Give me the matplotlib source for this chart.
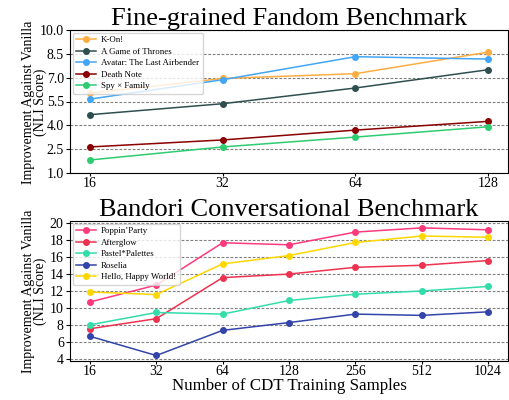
import matplotlib
matplotlib.use("Agg")
import matplotlib.pyplot as plt

plt.rcParams['font.family'] = ['Liberation Serif', 'DejaVu Serif']

# Top chart data
top_x = ["16", "32", "64", "128"]
kon = [6.02, 6.95, 7.25, 8.61]
got = [4.67, 5.36, 6.35, 7.50]
avatar = [5.65, 6.87, 8.32, 8.17]
death_note = [2.64, 3.08, 3.70, 4.25]
spy_family = [1.82, 2.64, 3.26, 3.91]
top_names = ["K-On!", "A Game of Thrones", "Avatar: The Last Airbender", "Death Note", "Spy × Family"]
top_colors = ["#FFAD42", "#2F4F4F", "#42A5F5", "#8B0000", "#2ECC71"]
top_yticks = [1.0, 2.5, 4.0, 5.5, 7.0, 8.5, 10.0]

# Bottom chart data
bot_x = ["16", "32", "64", "128", "256", "512", "1024"]
poppin = [10.70, 12.70, 17.70, 17.46, 18.96, 19.46, 19.23]
afterglow = [7.54, 8.73, 13.58, 14.00, 14.80, 15.04, 15.60]
pastel = [8.00, 9.46, 9.27, 10.88, 11.62, 12.00, 12.54]
roselia = [6.65, 4.38, 7.35, 8.27, 9.27, 9.12, 9.54]
hello = [11.88, 11.58, 15.20, 16.19, 17.73, 18.50, 18.35]
bot_names = ["Poppin’Party", "Afterglow", "Pastel*Palettes", "Roselia", "Hello, Happy World!"]
bot_colors = ["#FF3A7A", "#EE3350", "#33DDAA", "#3344AA", "#FFD700"]
bot_yticks = [4, 6, 8, 10, 12, 14, 16, 18, 20]

ylabel_lines = ["Improvement Against Vanilla", "(NLI Score)"]

W, H = 509, 400
fig = plt.figure(figsize=(W/100, H/100), dpi=100)
ax1 = fig.add_axes([70/W, 1 - 173/H, 438/W, 143/H])
ax2 = fig.add_axes([70/W, 1 - 361/H, 438/W, 140/H])


def style(ax, title, ycenter):
    ax.grid(axis='y', linestyle=(0, (2.5, 1.5)), color='gray', lw=0.8)
    ax.set_axisbelow(True)
    ax.set_title(title, fontsize=19, pad=2)
    for xc, line in zip([28.5, 40.5], ylabel_lines):
        fig.text(xc / W, 1 - ycenter / H, line, rotation=90, ha='center', va='center',
                 fontsize=10)
    ax.tick_params(axis='both', labelsize=10, width=0.8)
    ax.tick_params(axis='y', length=3, pad=1.5)
    ax.tick_params(axis='x', length=2, pad=0.6)
    ax.legend(loc='upper left', fontsize=6.4, handlelength=2.2, handletextpad=0.6,
              borderpad=0.4, labelspacing=0.36, borderaxespad=0.3)


top_series = [kon, got, avatar, death_note, spy_family]
for vals, name, c in zip(top_series, top_names, top_colors):
    ax1.plot(range(len(top_x)), vals, marker='o', markersize=4, lw=1.1, color=c, label=name)
ax1.set_xticks(range(len(top_x)))
ax1.set_xticklabels(top_x)
ax1.set_yticks(top_yticks)
ax1.set_yticklabels([f"{v:.1f}" for v in top_yticks])
ax1.set_ylim(1.0, 10.0)
style(ax1, "Fine-grained Fandom Benchmark", 102)

bot_series = [poppin, afterglow, pastel, roselia, hello]
for vals, name, c in zip(bot_series, bot_names, bot_colors):
    ax2.plot(range(len(bot_x)), vals, marker='o', markersize=4, lw=1.1, color=c, label=name)
ax2.set_xticks(range(len(bot_x)))
ax2.set_xticklabels(bot_x)
ax2.set_yticks(bot_yticks)
ax2.set_ylim(3.73, 20.27)
style(ax2, "Bandori Conversational Benchmark", 291)
ax2.set_xlabel("Number of CDT Training Samples", fontsize=12.2, labelpad=0.5)

fig.savefig("out.png", dpi=100)
